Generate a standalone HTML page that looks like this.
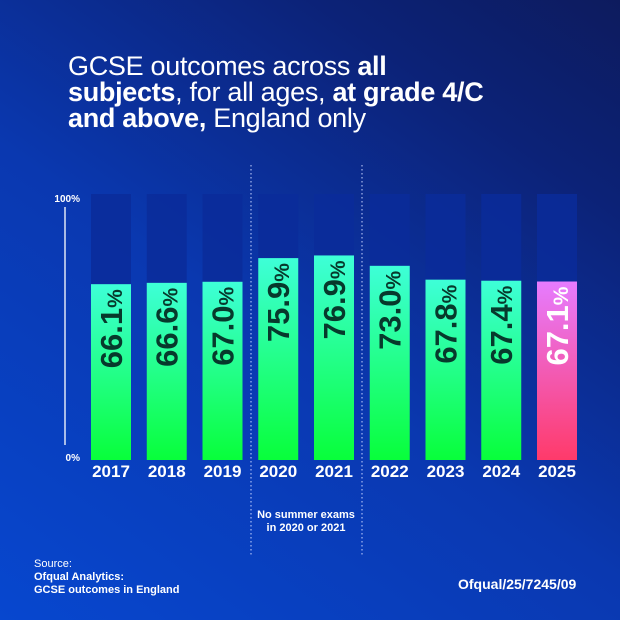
<!DOCTYPE html>
<html><head><meta charset="utf-8"><style>
html,body{margin:0;padding:0}
body{width:620px;height:620px;overflow:hidden;font-family:"Liberation Sans",sans-serif;}
#bg{position:absolute;left:0;top:0;width:620px;height:620px;background:linear-gradient(35deg,#0747cf 0%,#0a38b0 45%,#0c2277 80%,#0d1b5e 100%);}
.t{position:absolute;color:#fff;white-space:nowrap}
</style></head><body>
<div id="bg"></div>
<div class="t" style="left:68px;top:53px;font-size:27px;line-height:26px;letter-spacing:-0.3px">GCSE outcomes across <b>all</b><br><b>subjects</b>, for all ages, <b>at grade 4/C</b><br><b>and above,</b> England only</div>
<svg id="chart" width="620" height="620" style="position:absolute;left:0;top:0">
</svg>
<div class="t" style="left:250px;top:509px;width:112px;text-align:center;font-size:11px;font-weight:bold;line-height:13px">No summer exams<br>in 2020 or 2021</div>
<div class="t" style="left:34px;top:558px;font-size:11px;line-height:13px">Source:</div>
<div class="t" style="left:34px;top:571px;font-size:11px;font-weight:bold;line-height:13px">Ofqual Analytics:<br>GCSE outcomes in England</div>
<div class="t" style="left:458px;top:576px;font-size:14px;font-weight:bold">Ofqual/25/7245/09</div>
<script>
const years=["2017","2018","2019","2020","2021","2022","2023","2024","2025"];
const values=[66.1,66.6,67.0,75.9,76.9,73.0,67.8,67.4,67.1];
const yTicks=["0%","100%"];
const NS="http://www.w3.org/2000/svg";
const svg=document.getElementById('chart');
const x0=91,pitch=55.75,bw=40,yTop=194,yBot=460;
const xs=i=>x0+i*pitch;
const ys=v=>yBot-(v/100)*(yBot-yTop);
function mk(t,a,p){const e=document.createElementNS(NS,t);for(const k in a)e.setAttribute(k,a[k]);(p||svg).appendChild(e);return e;}
const defs=mk('defs',{});
defs.innerHTML='<linearGradient id="gg" x1="0" y1="0" x2="0" y2="1"><stop offset="0" stop-color="#3effd8"/><stop offset="1" stop-color="#08ff3a"/></linearGradient><linearGradient id="pg" x1="0" y1="0" x2="0" y2="1"><stop offset="0" stop-color="#e67cff"/><stop offset="1" stop-color="#ff3a6a"/></linearGradient>';
const ax=mk('line',{x1:65,x2:65,y1:207,y2:445,stroke:'#fff','stroke-width':1.3});


yTicks.forEach((lab,i)=>{
  const t=mk('text',{x:80,y:i==0?ys(0)+1:ys(100)+8,'text-anchor':'end',fill:'#fff','font-size':10,'font-weight':'bold','font-family':'Liberation Sans'});
  t.textContent=lab;
  
  
});
[251,362].forEach(x=>{
  const l=mk('line',{x1:x,x2:x,y1:165,y2:556,stroke:'#c8d4ff','stroke-width':1,'stroke-dasharray':'1.5 2.5'});
  
  
});
values.forEach((v,i)=>{
  const x=xs(i),last=i==values.length-1;
  const track=mk('rect',{x:x,y:yTop,width:bw,height:yBot-yTop,fill:'#0b2c9a',opacity:0.85});
  
  
  const b=mk('rect',{x:x,y:ys(v),width:bw,height:yBot-ys(v),fill:last?'url(#pg)':'url(#gg)'});
  
  
  const tx=x+bw/2+11,ty=ys(v)+5;
  const t=mk('text',{x:tx,y:ty,transform:'rotate(-90 '+tx+' '+ty+')','text-anchor':'end',fill:last?'#fff':'#07392c','font-size':31,'font-weight':'bold','font-family':'Liberation Sans'});
  t.innerHTML=v.toFixed(1)+'<tspan font-size="21">%</tspan>';
  
  
  const yl=mk('text',{x:x+bw/2,y:477,'text-anchor':'middle',fill:'#fff','font-size':17,'font-weight':'bold','font-family':'Liberation Sans'});
  yl.textContent=years[i];
  
  
});
</script>
</body></html>
